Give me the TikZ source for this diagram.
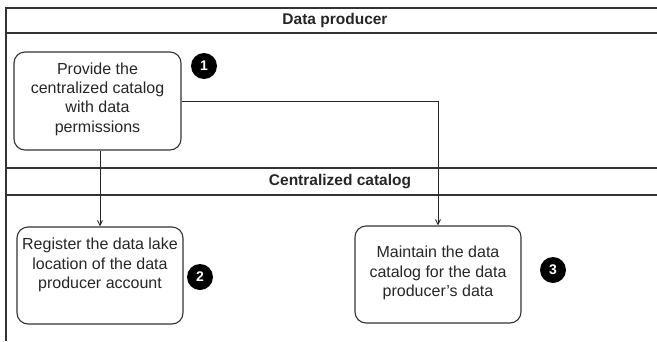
\documentclass[tikz,border=0pt]{standalone}
\usepackage{fontspec}
\setmainfont{Liberation Sans}
\usetikzlibrary{arrows.meta}
\begin{document}
\begin{tikzpicture}[x=1pt,y=-1pt,
  lane/.style={draw=black!80,line width=1.1pt},
  hdr/.style={font=\fontsize{15.5}{19}\selectfont\bfseries,text=black!85,inner sep=0pt},
  box/.style={draw=black!80,line width=1.1pt,rounded corners=11pt,inner sep=0pt},
  txt/.style={font=\fontsize{16}{19.3}\selectfont,text=black!85,align=center,inner sep=0pt},
  badge/.style={circle,fill=black,minimum size=26pt,inner sep=0pt,text=white,font=\fontsize{14}{14}\selectfont\bfseries},
  conn/.style={draw=black!85,line width=0.9pt,-{Straight Barb[length=5pt,width=5pt]}}
]
\useasboundingbox (0,0) rectangle (657,341);
% swimlanes
\draw[lane] (6,341) -- (6,8) -- (660,8);
\draw[lane] (6,33) -- (660,33);
\draw[lane] (6,168) -- (660,168);
\draw[lane] (6,195) -- (660,195);
\node[hdr] (h1) at (335,20.5) {Data producer};
\node[hdr] (h2) at (340,181.5) {Centralized catalog};
% boxes
\node[box,minimum width=167pt,minimum height=98pt] (b1) at (97.5,101) {};
\node[txt] (t1) at (97.5,99) {Provide the\\centralized catalog\\with data\\permissions};
\node[box,minimum width=166pt,minimum height=97pt] (b2) at (100,275.5) {};
\node[txt] (t2) at (100,265) {Register the data lake\\location of the data\\producer account};
\node[box,minimum width=166pt,minimum height=97pt] (b3) at (438,274.5) {};
\node[txt] (t3) at (438,273) {Maintain the data\\catalog for the data\\producer\symbol{39}s data};
% badges
\node[badge] (n1) at (204,66) {1};
\node[badge] (n2) at (200,277) {2};
\node[badge] (n3) at (553,270) {3};
% connectors
\draw[conn] (b1.east) -| (b3.north);
\draw[conn] (b2.north |- b1.south) -- (b2.north);
\end{tikzpicture}
\end{document}
